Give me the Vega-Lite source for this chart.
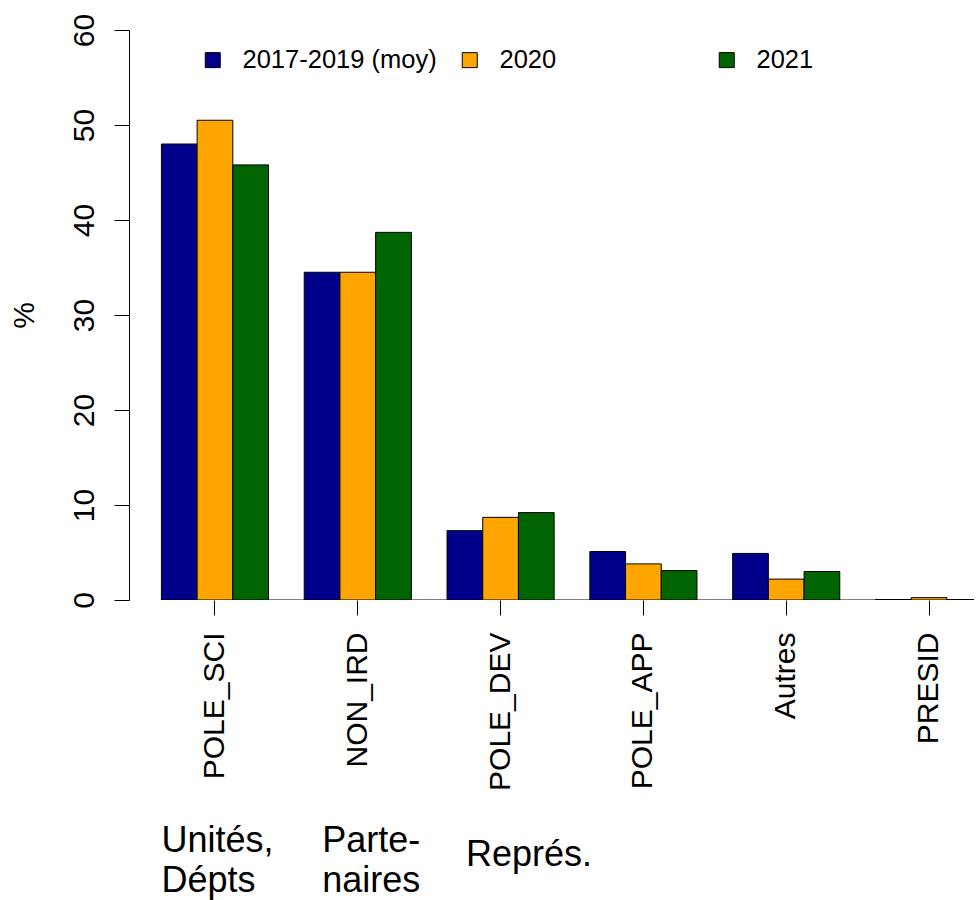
{
  "$schema": "https://vega.github.io/schema/vega-lite/v6.json",
  "width": 845,
  "height": 570,
  "autosize": {"type": "pad"},
  "padding": {"left": 8, "top": 13, "right": 0, "bottom": 5},
  "config": {
    "font": "Liberation Sans",
    "view": {"stroke": null},
    "axis": {
      "grid": false,
      "labelColor": "black",
      "titleColor": "black",
      "tickColor": "black",
      "domainColor": "black",
      "labelFontSize": 30,
      "titleFontSize": 30,
      "titleFontWeight": "normal",
      "tickSize": 15
    }
  },
  "datasets": {
    "bars": [
      {"cat": "POLE_SCI", "serie": "2017-2019 (moy)", "pct": 48.0},
      {"cat": "POLE_SCI", "serie": "2020", "pct": 50.5},
      {"cat": "POLE_SCI", "serie": "2021", "pct": 45.8},
      {"cat": "NON_IRD", "serie": "2017-2019 (moy)", "pct": 34.5},
      {"cat": "NON_IRD", "serie": "2020", "pct": 34.5},
      {"cat": "NON_IRD", "serie": "2021", "pct": 38.7},
      {"cat": "POLE_DEV", "serie": "2017-2019 (moy)", "pct": 7.3},
      {"cat": "POLE_DEV", "serie": "2020", "pct": 8.7},
      {"cat": "POLE_DEV", "serie": "2021", "pct": 9.2},
      {"cat": "POLE_APP", "serie": "2017-2019 (moy)", "pct": 5.1},
      {"cat": "POLE_APP", "serie": "2020", "pct": 3.8},
      {"cat": "POLE_APP", "serie": "2021", "pct": 3.1},
      {"cat": "Autres", "serie": "2017-2019 (moy)", "pct": 4.9},
      {"cat": "Autres", "serie": "2020", "pct": 2.2},
      {"cat": "Autres", "serie": "2021", "pct": 3.0},
      {"cat": "PRESID", "serie": "2017-2019 (moy)", "pct": 0.05},
      {"cat": "PRESID", "serie": "2020", "pct": 0.25},
      {"cat": "PRESID", "serie": "2021", "pct": 0.05}
    ]
  },
  "layer": [
    {
      "data": {"values": [{"from": "POLE_SCI", "to": "PRESID"}]},
      "mark": {"type": "rule", "color": "black", "strokeWidth": 1, "clip": true},
      "encoding": {
        "x": {"field": "from", "type": "nominal", "bandPosition": 0,
          "scale": {"domain": ["POLE_SCI", "NON_IRD", "POLE_DEV", "POLE_APP", "Autres", "PRESID"], "range": [0, 886], "paddingInner": 0.25, "paddingOuter": 0.227},
          "axis": {"title": null, "domain": false, "labelAngle": -90, "labelAlign": "right", "labelBaseline": "middle", "labelPadding": 17, "labelOverlap": false}},
        "x2": {"field": "to", "bandPosition": 1},
        "y": {"datum": 0, "type": "quantitative"}
      }
    },
    {
      "data": {"name": "bars"},
      "mark": {"type": "bar", "stroke": "black", "strokeWidth": 1, "clip": true},
      "encoding": {
        "x": {"field": "cat", "type": "nominal",
          "scale": {"domain": ["POLE_SCI", "NON_IRD", "POLE_DEV", "POLE_APP", "Autres", "PRESID"], "range": [0, 886], "paddingInner": 0.25, "paddingOuter": 0.227},
          "axis": {"title": null, "domain": false, "labelAngle": -90, "labelAlign": "right", "labelBaseline": "middle", "labelPadding": 17, "labelOverlap": false}},
        "xOffset": {"field": "serie", "type": "nominal",
          "scale": {"domain": ["2017-2019 (moy)", "2020", "2021"], "paddingInner": 0, "paddingOuter": 0}},
        "y": {"field": "pct", "type": "quantitative",
          "scale": {"domain": [0, 60], "nice": false},
          "axis": {"title": "%", "values": [0, 10, 20, 30, 40, 50, 60], "labelAngle": -90, "labelAlign": "center", "labelBaseline": "bottom", "labelPadding": 15, "titlePadding": 30}},
        "color": {"field": "serie", "type": "nominal",
          "scale": {"domain": ["2017-2019 (moy)", "2020", "2021"], "range": ["#00008B", "#FFA500", "#006400"]},
          "legend": {"title": null, "orient": "none", "legendX": 71, "legendY": 17, "direction": "horizontal", "columns": 3, "gridAlign": "all", "columnPadding": 20, "padding": 0, "symbolType": "square", "symbolSize": 225, "symbolStrokeColor": "black", "symbolStrokeWidth": 1, "symbolOpacity": 1, "labelFontSize": 25.5, "labelColor": "black", "labelOffset": 17, "labelLimit": 400}}
      }
    },
    {
      "data": {"values": [{"cat": "POLE_SCI", "txt": "Unités,\nDépts"}]},
      "mark": {"type": "text", "align": "left", "baseline": "alphabetic", "fontSize": 36, "lineHeight": 40, "lineBreak": "\n", "color": "black"},
      "encoding": {
        "x": {"field": "cat", "type": "nominal", "bandPosition": 0,
          "scale": {"domain": ["POLE_SCI", "NON_IRD", "POLE_DEV", "POLE_APP", "Autres", "PRESID"], "range": [0, 886], "paddingInner": 0.25, "paddingOuter": 0.227},
          "axis": {"title": null, "domain": false, "labelAngle": -90, "labelAlign": "right", "labelBaseline": "middle", "labelPadding": 17, "labelOverlap": false}},
        "y": {"datum": -26.5, "type": "quantitative"},
        "text": {"field": "txt"}
      }
    },
    {
      "data": {"values": [{"cat": "NON_IRD", "txt": "Parte-\nnaires"}]},
      "mark": {"type": "text", "align": "left", "baseline": "alphabetic", "fontSize": 36, "lineHeight": 40, "lineBreak": "\n", "color": "black", "dx": 18},
      "encoding": {
        "x": {"field": "cat", "type": "nominal", "bandPosition": 0,
          "scale": {"domain": ["POLE_SCI", "NON_IRD", "POLE_DEV", "POLE_APP", "Autres", "PRESID"], "range": [0, 886], "paddingInner": 0.25, "paddingOuter": 0.227},
          "axis": {"title": null, "domain": false, "labelAngle": -90, "labelAlign": "right", "labelBaseline": "middle", "labelPadding": 17, "labelOverlap": false}},
        "y": {"datum": -26.5, "type": "quantitative"},
        "text": {"field": "txt"}
      }
    },
    {
      "data": {"values": [{"cat": "POLE_DEV", "txt": "Représ."}]},
      "mark": {"type": "text", "align": "left", "baseline": "alphabetic", "fontSize": 36, "color": "black", "dx": 19},
      "encoding": {
        "x": {"field": "cat", "type": "nominal", "bandPosition": 0,
          "scale": {"domain": ["POLE_SCI", "NON_IRD", "POLE_DEV", "POLE_APP", "Autres", "PRESID"], "range": [0, 886], "paddingInner": 0.25, "paddingOuter": 0.227},
          "axis": {"title": null, "domain": false, "labelAngle": -90, "labelAlign": "right", "labelBaseline": "middle", "labelPadding": 17, "labelOverlap": false}},
        "y": {"datum": -28.0, "type": "quantitative"},
        "text": {"field": "txt"}
      }
    }
  ]
}
